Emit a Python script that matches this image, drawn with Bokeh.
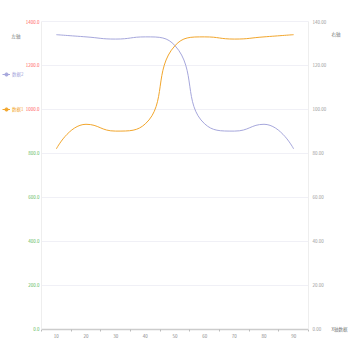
import math
from bokeh.plotting import figure
from bokeh.models import (Range1d, LinearAxis, FixedTicker, NumeralTickFormatter,
                          Legend, LegendItem, Label, ColumnDataSource, Grid)
from bokeh.embed import file_html
from bokeh.resources import INLINE

# ---- data ----
x_values = [10, 20, 30, 40, 50, 60, 70, 80, 90]
series1_name = "数据1"
series1 = [820, 932, 901, 934, 1290, 1330, 1320, 1330, 1340]   # left axis
series2_name = "数据2"
series2 = [134, 133, 132, 133, 129, 93.4, 90.1, 93.2, 82]     # right axis
left_ticks = [0, 200, 400, 600, 800, 1000, 1200, 1400]
right_ticks = [0, 20, 40, 60, 80, 100, 120, 140]
x_minor = [5, 15, 25, 35, 45, 55, 65, 75, 85, 95]
red_threshold = 1000

FONT = "Noto Sans CJK SC"
FS = "4.5px"
C1 = "#f2a62c"
C2 = "#a6a7dc"

W, H = 350, 350
BL, BR, BT, BB = 41, 42, 21, 21.5
FW = W - BL - BR
FH = H - BT - BB

XMIN, XMAX = 5, 95
YMAX_L, YMAX_R = 1400, 140
sx = FW / (XMAX - XMIN)
syl = FH / YMAX_L
syr = FH / YMAX_R

p = figure(width=W, height=H, output_backend="svg", toolbar_location=None,
           x_range=Range1d(XMIN - BL / sx, XMAX + BR / sx),
           y_range=Range1d(-BB / syl, YMAX_L + BT / syl),
           min_border=0, x_axis_location=None, y_axis_location=None)
p.outline_line_color = None
p.background_fill_color = "white"
p.border_fill_color = "white"
p.extra_y_ranges = {"right": Range1d(-BB / syr, YMAX_R + BT / syr)}
p.xgrid.visible = False
p.ygrid.visible = False

# grid lines (horizontal, limited to plotting area)
if "cross_bounds" in Grid.properties():
    g = Grid(dimension=1, ticker=FixedTicker(ticks=left_ticks),
             cross_bounds=(XMIN, XMAX), grid_line_color="#f0f0f6")
    p.add_layout(g)
else:
    p.segment(x0=[XMIN] * len(left_ticks), x1=[XMAX] * len(left_ticks),
              y0=left_ticks, y1=left_ticks, line_color="#f0f0f6", line_width=1)


def echarts_smooth(xs, ys, sx, sy, smooth=0.5):
    px = [v * sx for v in xs]
    py = [v * sy for v in ys]
    n = len(px)
    out = {k: [] for k in ("x0", "y0", "cx0", "cy0", "cx1", "cy1", "x1", "y1")}
    cpx0, cpy0 = px[0], py[0]
    prevX, prevY = px[0], py[0]
    for i in range(1, n):
        x, y = px[i], py[i]
        if i == n - 1:
            cpx1, cpy1 = x, y
            ncx, ncy = x, y
        else:
            nX, nY = px[i + 1], py[i + 1]
            vx, vy = nX - prevX, nY - prevY
            lp = math.hypot(x - prevX, y - prevY)
            ln = math.hypot(nX - x, nY - y)
            r = ln / (ln + lp)
            ncx = x + vx * smooth * r
            ncy = y + vy * smooth * r
            ncx = min(ncx, max(nX, x)); ncy = min(ncy, max(nY, y))
            ncx = max(ncx, min(nX, x)); ncy = max(ncy, min(nY, y))
            vx, vy = ncx - x, ncy - y
            cpx1 = x - vx * lp / ln; cpy1 = y - vy * lp / ln
            cpx1 = min(cpx1, max(prevX, x)); cpy1 = min(cpy1, max(prevY, y))
            cpx1 = max(cpx1, min(prevX, x)); cpy1 = max(cpy1, min(prevY, y))
            vx, vy = x - cpx1, y - cpy1
            ncx = x + vx * ln / lp; ncy = y + vy * ln / lp
        for k, v in (("x0", prevX), ("y0", prevY), ("cx0", cpx0), ("cy0", cpy0),
                     ("cx1", cpx1), ("cy1", cpy1), ("x1", x), ("y1", y)):
            out[k].append(v / (sx if k.startswith(("x", "cx")) else sy))
        cpx0, cpy0 = ncx, ncy
        prevX, prevY = x, y
    return out


b1 = echarts_smooth(x_values, series1, sx, syl)
b2 = echarts_smooth(x_values, series2, sx, syr)
p.bezier(source=ColumnDataSource(b2), x0="x0", y0="y0", x1="x1", y1="y1",
         cx0="cx0", cy0="cy0", cx1="cx1", cy1="cy1", line_color=C2,
         line_width=1, y_range_name="right")
p.bezier(source=ColumnDataSource(b1), x0="x0", y0="y0", x1="x1", y1="y1",
         cx0="cx0", cy0="cy0", cx1="cx1", cy1="cy1", line_color=C1, line_width=1)

# legend proxies (no visible data point; used only for legend icons)
NAN = [float("nan")]
l2 = p.line(x=NAN, y=NAN, line_color=C2, line_width=1)
s2 = p.scatter(x=NAN, y=NAN, marker="circle", size=4, fill_color=C2, line_color=C2)
l1 = p.line(x=NAN, y=NAN, line_color=C1, line_width=1)
s1 = p.scatter(x=NAN, y=NAN, marker="circle", size=4, fill_color=C1, line_color=C1)


def style(ax, color, standoff):
    ax.major_tick_line_color = None
    ax.major_tick_out = 0
    ax.major_tick_in = 0
    ax.minor_tick_line_color = None
    ax.major_label_standoff = standoff
    ax.major_label_text_font = FONT
    ax.major_label_text_font_size = FS
    ax.major_label_text_color = color


# x axis
xaxis = LinearAxis(ticker=FixedTicker(ticks=x_values, minor_ticks=x_minor),
                   fixed_location=0, bounds=(XMIN, XMAX))
style(xaxis, "#888888", 3)
xaxis.axis_line_color = "#cccccc"
xaxis.axis_line_width = 1.5
xaxis.minor_tick_line_color = "#bbbbbb"
xaxis.minor_tick_out = 2
xaxis.minor_tick_in = 0
p.add_layout(xaxis, "below")

# left axis: green labels below threshold, red labels above
green_ticks = [t for t in left_ticks if t < red_threshold]
red_ticks = [t for t in left_ticks if t >= red_threshold]
yaxis = LinearAxis(ticker=FixedTicker(ticks=green_ticks),
                   formatter=NumeralTickFormatter(format="0.0"),
                   fixed_location=XMIN, bounds=(0, YMAX_L))
style(yaxis, "#5cb85c", 2)
yaxis.axis_line_color = "#eeeeee"
p.add_layout(yaxis, "left")

yaxis_red = LinearAxis(ticker=FixedTicker(ticks=red_ticks),
                       formatter=NumeralTickFormatter(format="0.0"),
                       fixed_location=XMIN, bounds=(0, YMAX_L))
style(yaxis_red, "#ff5c5c", 2)
yaxis_red.axis_line_color = None
p.add_layout(yaxis_red, "left")

# right axis
raxis = LinearAxis(y_range_name="right", ticker=FixedTicker(ticks=right_ticks),
                   formatter=NumeralTickFormatter(format="0.00"),
                   fixed_location=XMAX, bounds=(0, YMAX_R))
style(raxis, "#999999", 4)
raxis.axis_line_color = "#eeeeee"
p.add_layout(raxis, "right")

# axis names
for txt, x, y in (("左轴", 11, H - 35), ("右轴", 331, H - 33), ("X轴数据", 331, H - 328)):
    p.add_layout(Label(x=x, y=y, x_units="screen", y_units="screen", text=txt,
                       text_font=FONT, text_font_size=FS, text_color="#777777",
                       text_baseline="middle", text_align="left"))

for name, rends, col, ycen in ((series2_name, [l2, s2], C2, 74),
                               (series1_name, [l1, s1], C1, 109)):
    lg = Legend(items=[LegendItem(label=name, renderers=rends)],
                location=(2, H - ycen - 5), orientation="vertical",
                padding=0, margin=0, spacing=0, glyph_width=8, glyph_height=10,
                label_height=10, label_standoff=2, border_line_color=None,
                background_fill_alpha=0, label_text_font=FONT,
                label_text_font_size=FS, label_text_color=col)
    p.add_layout(lg)

open("out.html", "w").write(file_html(p, INLINE))
